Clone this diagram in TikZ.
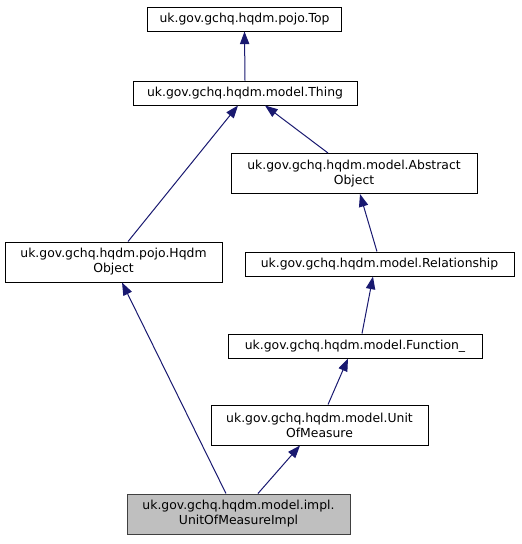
\documentclass[tikz,border=0pt]{standalone}
\usepackage{fontspec}
\setmainfont{DejaVu Sans}
\usetikzlibrary{arrows.meta}
\definecolor{edgeblue}{HTML}{191970}
\definecolor{implgray}{HTML}{BFBFBF}
\definecolor{implborder}{HTML}{404040}

\begin{document}
\begin{tikzpicture}[
  x=0.75pt, y=-0.75pt,
  cls/.style={rectangle, draw=black, line width=0.75pt, align=center, inner sep=0pt, font=\fontsize{9.3}{11.2}\selectfont},
  one/.style={cls, minimum height=18pt},
  two/.style={cls, minimum height=30pt},
  inherit/.style={draw=edgeblue, line width=0.75pt, -{Triangle[length=9.5pt, width=7pt]}},
]
  \useasboundingbox (0,0) rectangle (522,544);

  \node[one, minimum width=146pt] (top) at (244.5,19) {uk.gov.gchq.hqdm.pojo.Top};
  \node[one, minimum width=168pt] (thing) at (245,93) {uk.gov.gchq.hqdm.model.Thing};
  \node[two, minimum width=184.5pt] (abstract) at (354,173.5) {uk.gov.gchq.hqdm.model.Abstract\\Object};
  \node[two, minimum width=162.75pt] (hqdm) at (113.5,262) {uk.gov.gchq.hqdm.pojo.Hqdm\\Object};
  \node[one, minimum width=201.75pt] (rel) at (379.5,264) {uk.gov.gchq.hqdm.model.Relationship};
  \node[one, minimum width=190.5pt] (func) at (355,346) {uk.gov.gchq.hqdm.model.Function\_};
  \node[two, minimum width=162.75pt] (uom) at (319.5,425) {uk.gov.gchq.hqdm.model.Unit\\OfMeasure};
  \node[two, minimum width=167.25pt, fill=implgray, draw=implborder] (impl) at (238.5,514) {uk.gov.gchq.hqdm.model.impl.\\UnitOfMeasureImpl};

  \draw[inherit] (thing.north) -- (top.south);
  \draw[inherit] ([xshift=-19.5pt]abstract.north) -- ([xshift=15pt]thing.south);
  \draw[inherit] ([xshift=10.9pt]hqdm.north) -- ([xshift=-5.25pt]thing.south);
  \draw[inherit] ([xshift=-1.9pt]rel.north) -- ([xshift=4.5pt]abstract.south);
  \draw[inherit] ([xshift=5.25pt]func.north) -- ([xshift=-4.9pt]rel.south);
  \draw[inherit] ([xshift=6.4pt]uom.north) -- ([xshift=-5.25pt]func.south);
  \draw[inherit] ([xshift=14.6pt]impl.north) -- ([xshift=-14.6pt]uom.south);
  \draw[inherit] ([xshift=-9.4pt]impl.north) -- ([xshift=6.4pt]hqdm.south);
\end{tikzpicture}
\end{document}
